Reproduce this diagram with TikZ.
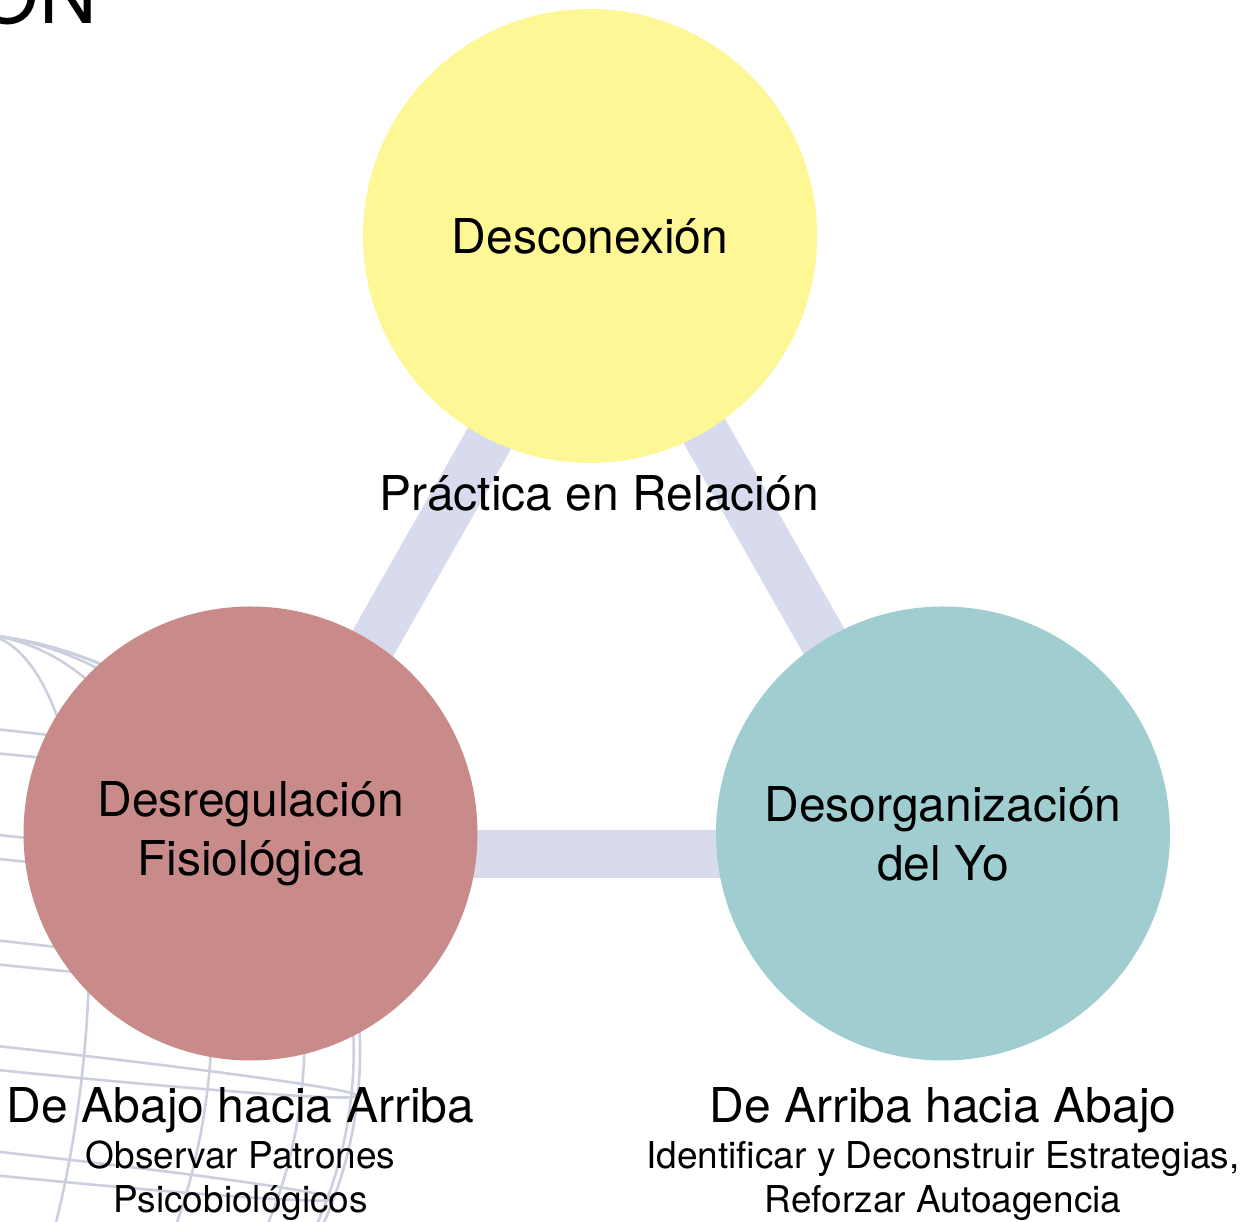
\documentclass[tikz,border=0pt]{standalone}
\usepackage{fontspec}
\setmainfont{TeX Gyre Heros}
\usetikzlibrary{positioning, backgrounds}

\newcommand{\bigtext}{\fontsize{48}{58}\selectfont}
\newcommand{\smalltext}{\fontsize{37}{44}\selectfont}

\begin{document}
\begin{tikzpicture}[x=1pt, y=1pt, align=center]
        % Define colors
        \definecolor{bubbleyellow}{RGB}{253, 247, 150}
        \definecolor{bubblered}{RGB}{201, 139, 137}
        \definecolor{bubbleteal}{RGB}{160, 206, 208}
        \definecolor{bandlilac}{RGB}{216, 218, 238}
        \definecolor{meshgrey}{RGB}{204, 208, 222}

        \tikzset{
            bubble/.style={circle, minimum size=454pt, inner sep=0pt, font=\bigtext},
            band/.style={line width=48pt, draw=bandlilac, line join=round},
            caption/.style={inner sep=0pt, font=\smalltext},
            mesh/.style={draw=meshgrey, line width=2.6pt}
        }

        \useasboundingbox (0,0) rectangle (1248,1222);

        % Title remainder, cut at the top edge
        \node[anchor=base east, inner sep=0pt, font=\fontsize{80}{90}\selectfont] (titulo) at (97,1198) {ON};

        % Nodes
        \node[bubble, fill=bubbleyellow] (descon) at (590,986) {Desconexión};
        \node[bubble, fill=bubblered] (fisio) at (250.5,388.5) {Desregulación\\[1pt]Fisiológica};
        \node[bubble, fill=bubbleteal] (yo) at (943,388.5) {Desorganización\\[1pt]del Yo};

        \node[inner sep=0pt, font=\bigtext, below=12pt of descon, xshift=9pt] (relacion) {Práctica en Relación};

        \node[caption, below=27pt of fisio, xshift=-10pt] (abajo) {{\bigtext De Abajo hacia Arriba}\\[2pt]Observar Patrones\\Psicobiológicos};
        \node[caption, below=27pt of yo] (arriba) {{\bigtext De Arriba hacia Abajo}\\[2pt]Identificar y Deconstruir Estrategias,\\Reforzar Autoagencia};

        % Edges
        \coordinate (vtop) at ([shift={(9pt,-10pt)}]descon.center);
        \coordinate (vleft) at ([shift={(2.5pt,-20.5pt)}]fisio.center);
        \coordinate (vright) at ([shift={(2pt,-20.5pt)}]yo.center);

        \begin{pgfonlayer}{background}
            % faint globe behind the left circle
            \begin{scope}
                \clip (0,0) rectangle (480,602);
                \begin{scope}[shift={(-60,170)}, rotate=-6]
                    \foreach \a in {20,40,60,80} {
                        \draw[mesh] (0,0) ellipse[x radius={420*sin(\a)}, y radius=420];
                    }
                    \foreach \h in {-315,-210,...,315} {
                        \draw[mesh] (0,\h) ellipse[x radius={420*sqrt(1-(\h/420)^2)}, y radius=12];
                    }
                    \draw[mesh] (0,0) circle[radius=420];
                \end{scope}
            \end{scope}
            \draw[band] (vtop) -- (vleft) -- (vright) -- cycle;
        \end{pgfonlayer}
    \end{tikzpicture}
\end{document}
